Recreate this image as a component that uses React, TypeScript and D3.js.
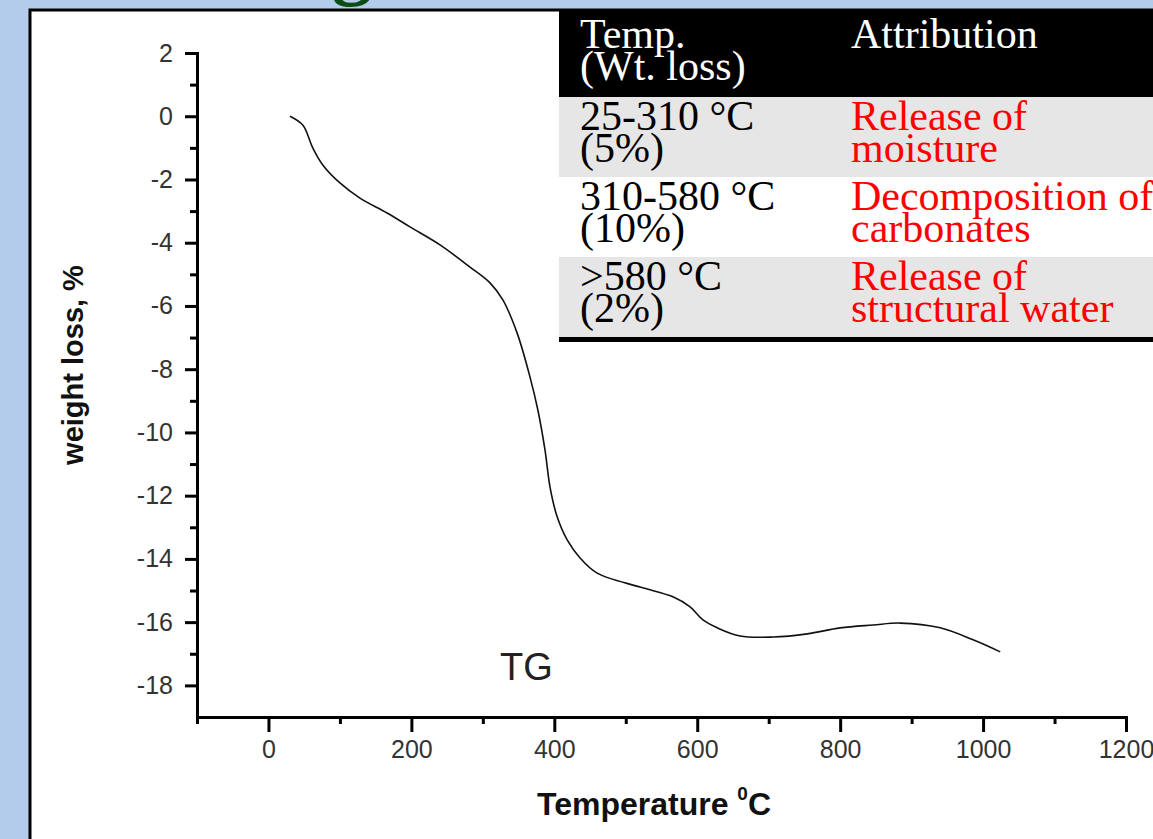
import React, { useRef, useEffect } from "react";
import * as d3 from "d3";

// TG curve (temperature in °C, weight loss in %)
const temps = [30, 48, 62, 76, 100, 128, 166, 198, 240, 282, 310, 328, 348, 366, 377, 387, 394, 404, 418, 436, 460, 520, 566, 590, 608, 628, 660, 706, 754, 800, 846, 884, 940, 986, 1024];
const weightLoss = [0.0, -0.28, -1.0, -1.54, -2.11, -2.59, -3.06, -3.5, -4.07, -4.77, -5.27, -5.81, -6.86, -8.25, -9.29, -10.56, -11.73, -12.67, -13.4, -13.97, -14.45, -14.89, -15.2, -15.52, -15.93, -16.18, -16.44, -16.47, -16.37, -16.18, -16.09, -16.03, -16.18, -16.56, -16.94];

const xMajor = [0, 200, 400, 600, 800, 1000, 1200];
const xMinor = [-100, 100, 300, 500, 700, 900, 1100];
const yMajor = [2, 0, -2, -4, -6, -8, -10, -12, -14, -16, -18];
const yMinor = [1, -1, -3, -5, -7, -9, -11, -13, -15, -17];

const headerTemp = ["Temp.", "(Wt. loss)"];
const headerAttr = ["Attribution"];
const tempRanges = [["25-310 °C", "(5%)"], ["310-580 °C", "(10%)"], [">580 °C", "(2%)"]];
const attributions = [["Release of", "moisture"], ["Decomposition of", "carbonates"], ["Release of", "structural water"]];

const W = 1153, H = 839;
const tickFont = "'Liberation Sans', Arial, sans-serif";
const tableFont = "'Liberation Serif', 'Times New Roman', serif";

const App = () => {
  const xAxisRef = useRef<SVGGElement>(null),
        xMinorRef = useRef<SVGGElement>(null),
        yAxisRef = useRef<SVGGElement>(null),
        yMinorRef = useRef<SVGGElement>(null);

  const x = d3.scaleLinear().domain([-100, 1200]).range([197, 1126]);
  const y = d3.scaleLinear().domain([-19, 2]).range([717, 53]);

  const data = temps.map((t, i) => ({ t, w: weightLoss[i] }));
  const line = d3.line<{ t: number; w: number }>()
    .x(d => x(d.t))
    .y(d => y(d.w))
    .curve(d3.curveCatmullRom.alpha(0.5));

  useEffect(() => {
    const style = (g: any) => {
      g.attr("font-size", 25).attr("font-family", tickFont);
      g.select(".domain").attr("stroke-width", 3).attr("stroke-linecap", "square");
      g.selectAll(".tick line").attr("stroke-width", 3);
      g.selectAll(".tick text").attr("fill", "#333");
    };
    d3.select(xAxisRef.current)
      .call(d3.axisBottom(x).tickValues(xMajor).tickSize(15).tickSizeOuter(0).tickPadding(8).tickFormat(d => String(d)) as any)
      .call(style);
    d3.select(xMinorRef.current)
      .call(d3.axisBottom(x).tickValues(xMinor).tickSize(7).tickSizeOuter(0).tickFormat(() => "") as any)
      .call(style);
    d3.select(yAxisRef.current)
      .call(d3.axisLeft(y).tickValues(yMajor).tickSize(12).tickSizeOuter(0).tickPadding(12).tickFormat(d => String(d)) as any)
      .call(style);
    d3.select(yMinorRef.current)
      .call(d3.axisLeft(y).tickValues(yMinor).tickSize(7).tickSizeOuter(0).tickFormat(() => "") as any)
      .call(style);
  });

  const tableLeft = 559, col2 = 851, col1 = 580;
  const headerTop = 10, headerH = 87, rowH = 80;

  return (
    <div style={{ position: "absolute", left: 0, top: 0 }}>
      <svg width={W} height={H} style={{ display: "block" }}>
        <rect x={0} y={0} width={W} height={H} fill="#b4ccec" />
        <text x={332} y={-10} fontSize={80} fontWeight="bold" fontFamily={tableFont} fill="#0b4d14">g</text>
        <rect x={30} y={10} width={W} height={H} fill="#fff" stroke="#000" strokeWidth={3} />

        <path d={line(data) || ""} fill="none" stroke="#111" strokeWidth={1.6} />
        <g ref={xMinorRef} transform={`translate(0,${y(-19)})`} />
        <g ref={xAxisRef} transform={`translate(0,${y(-19)})`} />
        <g ref={yMinorRef} transform={`translate(${x(-100)},0)`} />
        <g ref={yAxisRef} transform={`translate(${x(-100)},0)`} />

        <text x={500} y={680} fontSize={38} fontFamily={tickFont} fill="#222">TG</text>
        <text x={537} y={815} fontSize={32} fontWeight="bold" fontFamily={tickFont} fill="#111">
          Temperature <tspan fontSize={19} dy={-15}>0</tspan><tspan dy={15}>C</tspan>
        </text>
        <text transform="translate(83,365) rotate(-90)" textAnchor="middle" fontSize={29} fontWeight="bold" fontFamily={tickFont} fill="#111">
          weight loss, %
        </text>

        <g fontFamily={tableFont} fontSize={42}>
          <rect x={tableLeft} y={headerTop} width={W - tableLeft} height={headerH} fill="#000" />
          {headerTemp.map((s, i) => (
            <text key={s} x={col1} y={headerTop + 38 + i * 32} fill="#fff">{s}</text>
          ))}
          {headerAttr.map(s => (
            <text key={s} x={col2} y={headerTop + 38} fill="#fff">{s}</text>
          ))}
          {tempRanges.map((r, i) => {
            const top = headerTop + headerH + i * rowH;
            return (
              <g key={i}>
                <rect x={tableLeft} y={top} width={W - tableLeft} height={rowH} fill={i % 2 === 0 ? "#e6e6e6" : "#fff"} />
                {r.map((s, j) => (
                  <text key={j} x={col1} y={top + 33 + j * 32} fill="#000">{s}</text>
                ))}
                {attributions[i].map((s, j) => (
                  <text key={"a" + j} x={col2} y={top + 33 + j * 32} fill="#ff0000">{s}</text>
                ))}
              </g>
            );
          })}
          <rect x={tableLeft} y={headerTop + headerH + 3 * rowH} width={W - tableLeft} height={5} fill="#000" />
        </g>
      </svg>
    </div>
  );
};

export default App;
